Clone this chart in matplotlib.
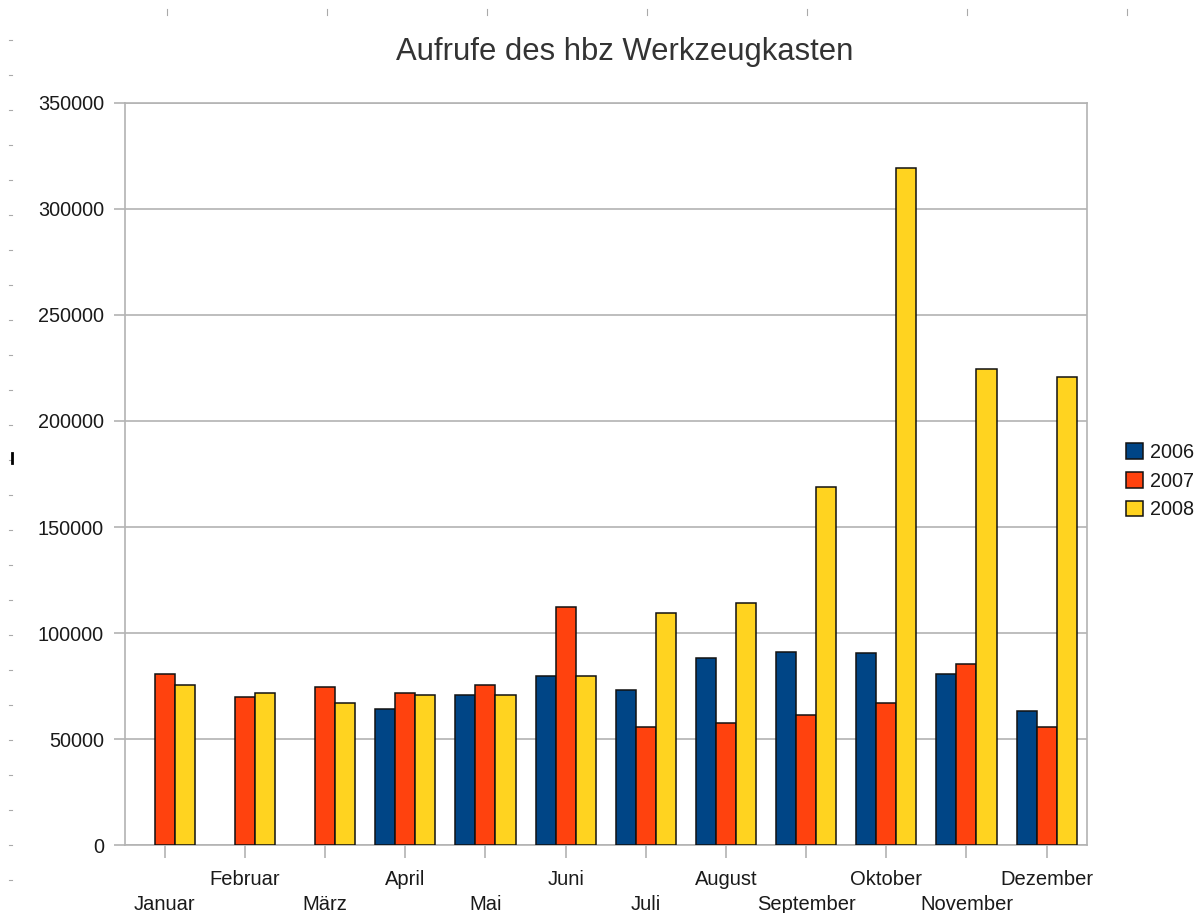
import numpy as np
import matplotlib
matplotlib.use("Agg")
import matplotlib.pyplot as plt
from matplotlib.lines import Line2D

plt.rcParams['font.family'] = ['Liberation Sans', 'DejaVu Sans']

months = ["Januar", "Februar", "März", "April", "Mai", "Juni",
          "Juli", "August", "September", "Oktober", "November", "Dezember"]
years = ["2006", "2007", "2008"]
v2006 = [np.nan, np.nan, np.nan, 64400, 70800, 79800, 73200, 88300, 91100, 90400, 80600, 63300]
v2007 = [80600, 70000, 74800, 71800, 75600, 112300, 55600, 57500, 61300, 66900, 85400, 55600]
v2008 = [75600, 71800, 66900, 70800, 70800, 79600, 109300, 114100, 168700, 319100, 224300, 220500]
colors = ["#004586", "#ff420e", "#ffd320"]
yticks = [0, 50000, 100000, 150000, 200000, 250000, 300000, 350000]

W, H = 1203, 913
fig = plt.figure(figsize=(W / 100, H / 100), dpi=100)
ax = fig.add_axes([124.7 / W, 1 - 845.3 / H, (1086.7 - 124.7) / W, (845.3 - 102.7) / H])

x = np.arange(len(months))
bw = 0.25
for i, (vals, c, lab) in enumerate(zip([v2006, v2007, v2008], colors, years)):
    ax.bar(x + (i - 1) * bw, vals, width=bw, color=c, edgecolor="#111111",
           linewidth=1.1, label=lab, zorder=3)

grid_c = "#b3b3b3"
ax.set_xlim(-0.5, len(months) - 0.5)
ax.set_ylim(0, 350000)
ax.set_yticks(yticks)
ax.set_yticklabels([str(v) for v in yticks])
ax.yaxis.grid(True, color=grid_c, linewidth=1.2, zorder=0)
for s in ax.spines.values():
    s.set_color(grid_c)
    s.set_linewidth(1.2)

# staggered month labels: lower row on major ticks, upper row on minor ticks
ax.set_xticks(x[::2])
ax.set_xticklabels(months[::2])
ax.set_xticks(x[1::2], minor=True)
ax.set_xticklabels(months[1::2], minor=True)
ax.tick_params(axis='x', which='major', length=9.5, width=1.2, color=grid_c, pad=26,
               labelsize=14.5, labelcolor="#1a1a1a")
ax.tick_params(axis='x', which='minor', length=9.5, width=1.2, color=grid_c, pad=8.5,
               labelsize=14.5, labelcolor="#1a1a1a")
ax.tick_params(axis='y', length=8, width=1.2, color=grid_c, pad=7, labelsize=14.3,
               labelcolor="#1a1a1a")

fig.text(625 / W, 1 - 52 / H, "Aufrufe des hbz Werkzeugkasten", ha="center", va="center",
         fontsize=22.3, color="#333333")

leg = ax.legend(loc="center left", bbox_to_anchor=(1126 / W, 1 - 481 / H),
                bbox_transform=fig.transFigure, frameon=False, fontsize=14.3,
                handlelength=0.85, handleheight=0.85, handletextpad=0.35,
                labelspacing=0.5, borderpad=0, borderaxespad=0)
for t in leg.get_texts():
    t.set_color("#1a1a1a")

# ruler marks of the screenshot
for px in range(167, 1200, 160):
    fig.add_artist(Line2D([px / W, px / W], [1 - 9 / H, 1 - 15 / H], color="#aaaaaa", lw=0.8))
for py in range(40, 913, 35):
    fig.add_artist(Line2D([9 / W, 12 / W], [1 - py / H, 1 - py / H], color="#aaaaaa", lw=0.8))
fig.add_artist(Line2D([12 / W, 12 / W], [1 - 453 / H, 1 - 463 / H], color="#000000", lw=2))

fig.savefig("out.png", dpi=100, facecolor="white")
